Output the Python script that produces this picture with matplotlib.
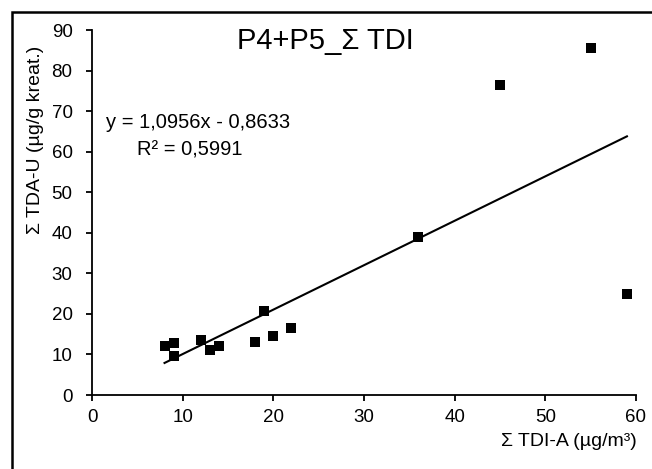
import matplotlib
matplotlib.use("Agg")
import matplotlib.pyplot as plt
from matplotlib.patches import Rectangle
import numpy as np

plt.rcParams['font.family'] = ['Liberation Sans', 'DejaVu Sans']

# Data
tdi_a = [8, 9, 9, 12, 13, 14, 18, 19, 20, 22, 36, 45, 55, 59]
tda_u = [12.1, 12.9, 9.7, 13.5, 11.1, 12.1, 13.1, 20.7, 14.5, 16.6, 38.9, 76.4, 85.5, 24.8]
slope = 1.0956
intercept = -0.8633
r2 = 0.5991
title = "P4+P5_Σ TDI"
xlabel = "Σ TDI-A (µg/m³)"
ylabel = "Σ TDA-U (µg/g kreat.)"
xticks = [0, 10, 20, 30, 40, 50, 60]
yticks = [0, 10, 20, 30, 40, 50, 60, 70, 80, 90]

W, H = 652, 469
fig = plt.figure(figsize=(W / 100, H / 100), dpi=100)
ax = fig.add_axes([92 / W, 1 - 395 / H, (636 - 92) / W, (395 - 30) / H])

ax.scatter(tdi_a, tda_u, marker='s', s=48, color='black', zorder=3, linewidths=0)
xl = np.array([min(tdi_a), max(tdi_a)])
ax.plot(xl, slope * xl + intercept, color='black', lw=1.5, zorder=2)

ax.set_xlim(0, 60)
ax.set_ylim(0, 90)
ax.set_xticks(xticks)
ax.set_yticks(yticks)
for s in ['top', 'right']:
    ax.spines[s].set_visible(False)
for s in ['left', 'bottom']:
    ax.spines[s].set_linewidth(1.3)
ax.tick_params(direction='out', length=4, width=1.3, labelsize=13.5, colors='black')
ax.tick_params(axis='x', pad=6)
ax.tick_params(axis='y', pad=10)

fig.text(325 / W, 1 - 41 / H, title, fontsize=21, ha='center', va='center')
fig.text(198 / W, 1 - 122 / H, "y = 1,0956x - 0,8633", fontsize=14.5, ha='center', va='center')
fig.text(190 / W, 1 - 150 / H, "R² = 0,5991", fontsize=14.5, ha='center', va='center')
fig.text(637 / W, 1 - 441 / H, xlabel, fontsize=14, ha='right', va='center')
fig.text(36 / W, 1 - 140 / H, ylabel, fontsize=14, ha='center', va='center', rotation=90)

fig.patches.append(Rectangle((11.5 / W, -0.1), 1.2, (H - 12.5) / H + 0.1,
                             transform=fig.transFigure, fill=False, ec='black', lw=1.8))

fig.savefig("out.png", dpi=100)
